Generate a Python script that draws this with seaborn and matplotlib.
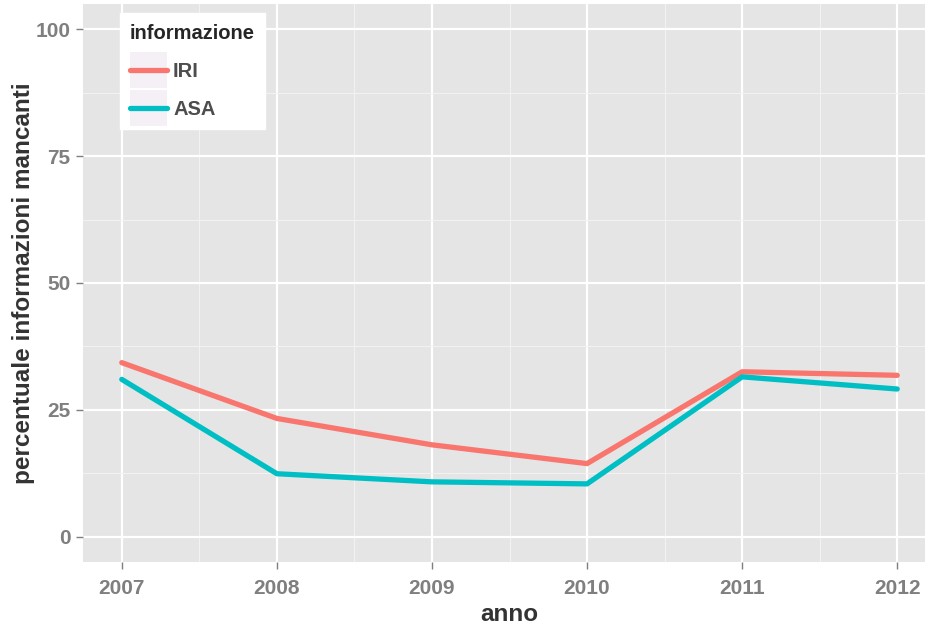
import numpy as np
import pandas as pd
import matplotlib
matplotlib.use('Agg')
import matplotlib.pyplot as plt
import seaborn as sns
from matplotlib.patches import Rectangle
from matplotlib.legend_handler import HandlerLine2D

# dati
anni = [2007, 2008, 2009, 2010, 2011, 2012]
iri = [34.3, 23.3, 18.1, 14.4, 32.5, 31.8]
asa = [31.0, 12.4, 10.8, 10.4, 31.5, 29.1]
serie = ['IRI', 'ASA']
colori = ['#F8766D', '#00BFC4']

df = pd.DataFrame({
    'anno': anni * 2,
    'valore': iri + asa,
    'informazione': ['IRI'] * len(anni) + ['ASA'] * len(anni),
})

sns.set_theme(style='darkgrid', rc={
    'axes.facecolor': '#E5E5E5',
    'grid.color': 'white',
    'xtick.bottom': True,
    'ytick.left': True,
})
plt.rcParams['font.family'] = ['Liberation Sans', 'DejaVu Sans']
plt.rcParams['axes.unicode_minus'] = False

fig = plt.figure(figsize=(9.25, 6.25), dpi=100)
# il pannello esce dal bordo destro come nell'originale
ax = fig.add_axes([83 / 925, 63 / 625, (936 - 83) / 925, (621 - 63) / 625])

sns.lineplot(data=df, x='anno', y='valore', hue='informazione',
             hue_order=serie, palette=colori, linewidth=3.8, ax=ax,
             legend=False)

ax.set_xlim(2006.75, 2012.25)
ax.set_ylim(-5, 105)
ax.set_xticks(anni)
ax.set_xticklabels([str(a) for a in anni])
ax.set_yticks([0, 25, 50, 75, 100])
ax.set_xticks([2007.5, 2008.5, 2009.5, 2010.5, 2011.5], minor=True)
ax.set_yticks([12.5, 37.5, 62.5, 87.5], minor=True)
ax.grid(True, which='major', color='white', linewidth=1.6)
ax.grid(True, which='minor', color='#F2F2F2', linewidth=0.8)
for s in ax.spines.values():
    s.set_visible(False)
ax.tick_params(axis='both', which='major', length=5, width=1, color='#7F7F7F',
               labelsize=15, labelcolor='#7F7F7F', bottom=True, left=True)
ax.tick_params(axis='x', which='major', pad=7.5)
ax.tick_params(axis='y', which='major', pad=4)
ax.tick_params(axis='both', which='minor', length=0)
for lab in ax.get_xticklabels() + ax.get_yticklabels():
    lab.set_fontweight('bold')

ax.set_xlabel('anno', fontsize=17.5, fontweight='bold', color='#333333', labelpad=3)
ax.set_ylabel('percentuale informazioni mancanti', fontsize=17.5, fontweight='bold',
              color='#333333', labelpad=0)


class KeyHandler(HandlerLine2D):
    # sfondo grigio chiaro dietro ogni chiave, come in ggplot2
    def create_artists(self, legend, orig_handle, xdescent, ydescent, width,
                       height, fontsize, trans):
        yc = (height - ydescent) / 2
        bg = Rectangle((-xdescent, yc - 0.9 * fontsize), width, 1.8 * fontsize,
                       facecolor='#F5F0F5', edgecolor='none', transform=trans)
        arts = super().create_artists(legend, orig_handle, xdescent, ydescent,
                                      width, height, fontsize, trans)
        return [bg] + list(arts)


handles = [plt.Line2D([], [], color=c, linewidth=3.8) for c in colori]
leg = ax.legend(handles, serie, title='informazione', loc='upper left',
                bbox_to_anchor=(0.043, 0.983), frameon=True, fancybox=False,
                facecolor='white', edgecolor='white', framealpha=1,
                prop={'size': 14.5, 'weight': 'bold'}, handlelength=1.85,
                handletextpad=0.3, labelspacing=0.95,
                borderpad=0.5, borderaxespad=0.0,
                handler_map={plt.Line2D: KeyHandler()})
leg.get_title().set_fontweight('bold')
leg.get_title().set_fontsize(14.5)
leg._legend_box.align = 'left'
for t in leg.get_texts():
    t.set_color('#4D4D4D')

fig.savefig('out.png', dpi=100)
